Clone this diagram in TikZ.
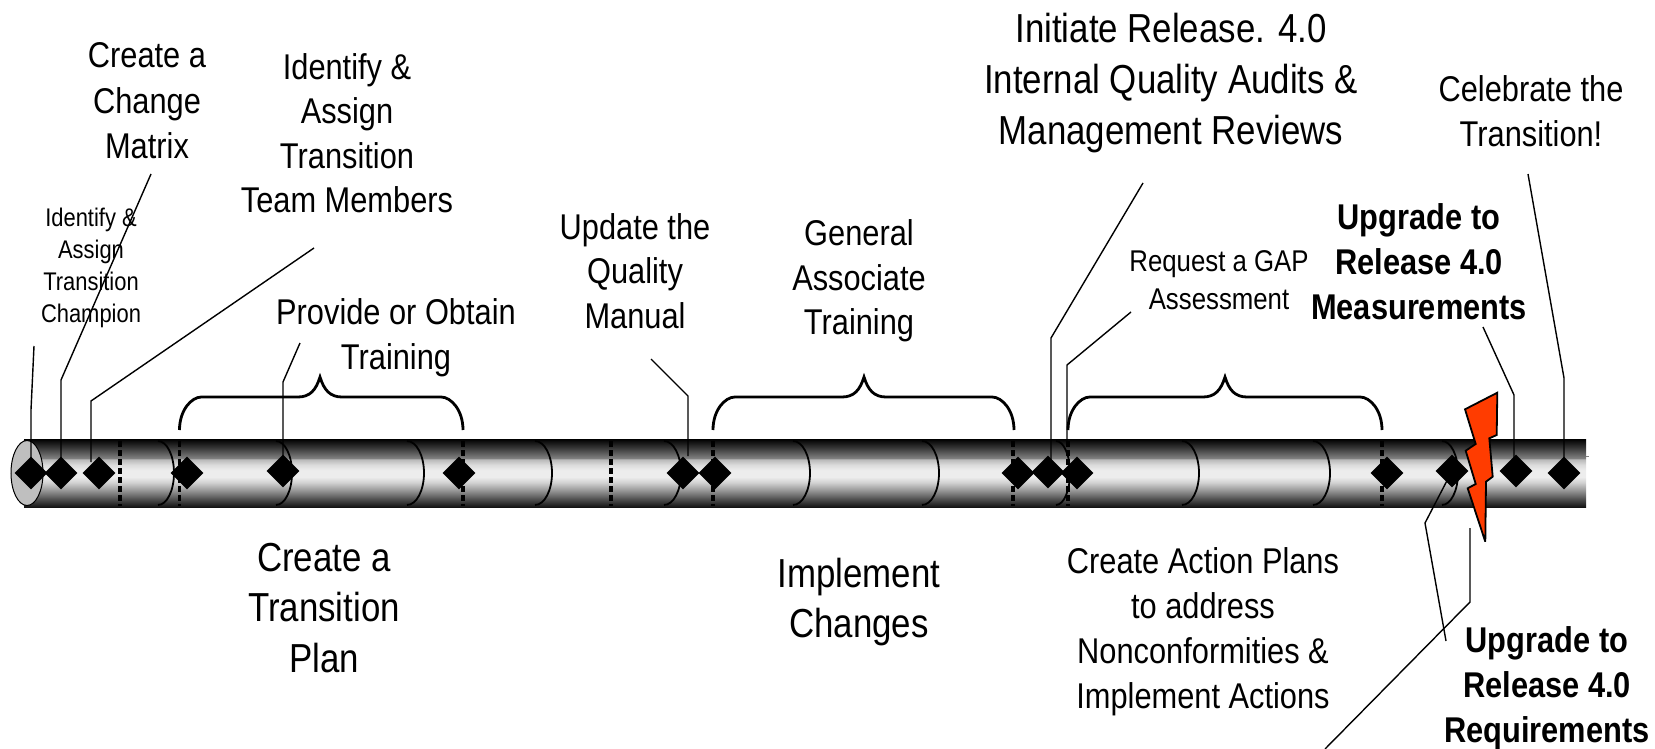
\documentclass[tikz,border=0pt]{standalone}
\usepackage{fontspec}
\setmainfont[FakeStretch=0.86]{Liberation Sans}
\usetikzlibrary{shapes.geometric}
\definecolor{boltred}{HTML}{FF3C00}
\pgfdeclareverticalshading{pipeshade}{100bp}{
 color(0bp)=(black); color(25bp)=(black!92!white); color(31bp)=(black!68!white);
 color(37bp)=(black!42!white); color(43bp)=(black!18!white); color(47bp)=(black!7!white); color(52bp)=(black!7!white);
 color(56bp)=(black!14!white); color(60bp)=(black!28!white); color(61bp)=(black!50!white);
 color(69bp)=(black!80!white); color(75bp)=(black); color(100bp)=(black)}
\tikzset{
 x=1pt,y=-1pt,
 lbl/.style n args={2}{align=center,inner sep=0pt,font=\fontsize{#1}{#2}\selectfont},
 blbl/.style n args={2}{align=center,inner sep=0pt,font=\fontsize{#1}{#2}\selectfont\bfseries},
 mark diamond/.style={diamond,fill=black,draw=none,inner sep=0pt,minimum width=33pt,minimum height=33pt},
 leader/.style={draw=black,line width=1.4pt},
 hoop/.style={draw=black,line width=1.8pt},
 phasemark/.style={draw=black,line width=3.2pt,dash pattern=on 6pt off 3pt},
 curly/.style={draw=black,line width=2.8pt},
}
\newcommand{\curlyb}[3]{% left x, cusp x, right x
 \draw[curly] (#1,430) .. controls (#1,410) and (#1+12,397) .. (#1+22,397) -- (#2-22,397)
   .. controls (#2-10,397) and (#2-4,390) .. (#2,377)
   .. controls (#2+4,390) and (#2+10,397) .. (#2+22,397) -- (#3-22,397)
   .. controls (#3-12,397) and (#3,410) .. (#3,430);}
\begin{document}
\begin{tikzpicture}
\useasboundingbox (0,0) rectangle (1655,749);
% pipe
\shade[shading=pipeshade] (24,439) rectangle (1586,507);
\draw[gray,line width=1pt] (1586,456) -- (1589,456);
\draw[fill=black!25!white,draw=black,line width=1pt] (27,473) ellipse[x radius=16pt,y radius=32.5pt];
% hoops
\foreach \xa/\xb in {158/174,276/292,407/424,535/552,664/681,793/810,922/939,1056/1070,1182/1199,1313/1330,1442/1458}
  {\pgfmathsetmacro\rr{\xb-\xa}
   \draw[hoop] (\xa,441) arc[start angle=90,end angle=-90,x radius=\rr pt,y radius=32pt];}
% phase markers
\foreach \xx in {120,179.5,463,611,713,1013,1068,1382}
  \draw[phasemark] (\xx,441) -- (\xx,506);
% braces
\curlyb{179.5}{320}{463}
\curlyb{713}{864}{1014}
\curlyb{1068}{1225}{1382}
% diamonds
\node[mark diamond] (d1) at (31,473) {};
\node[mark diamond] (d2) at (61,473) {};
\node[mark diamond] (d3) at (99,473) {};
\node[mark diamond] (d4) at (187,473) {};
\node[mark diamond] (d5) at (283,471) {};
\node[mark diamond] (d6) at (459,473) {};
\node[mark diamond] (d7) at (683,473) {};
\node[mark diamond] (d8) at (715,473) {};
\node[mark diamond] (d9) at (1018,473) {};
\node[mark diamond] (d10) at (1048,472) {};
\node[mark diamond] (d11) at (1077,473) {};
\node[mark diamond] (d12) at (1387,473) {};
\node[mark diamond] (d13) at (1452,471) {};
\node[mark diamond] (d14) at (1516,471) {};
\node[mark diamond] (d15) at (1564,473) {};
% texts
\node[lbl={35.8}{45.5}] (t1) at (147,101) {Create a\\Change\\Matrix};
\node[lbl={25.5}{32}] (t2) at (91,268) {Identify \&\\Assign\\Transition\\Champion};
\node[lbl={35.8}{44.5}] (t3) at (347,133) {Identify \&\\Assign\\Transition\\Team Members};
\node[lbl={35.8}{45}] (t4) at (396,338) {Provide or Obtain\\Training};
\node[lbl={35.8}{44.5}] (t5) at (635,271) {Update the\\Quality\\Manual};
\node[lbl={35.8}{44.5}] (t6) at (859,281) {General\\Associate\\Training};
\node[lbl={40.5}{50.6}] (t7) at (1171,83) {Initiate Release. 4.0\\Internal Quality Audits \&\\Management Reviews};
\node[lbl={35.8}{45}] (t8) at (1531,111) {Celebrate the\\Transition!};
\node[lbl={30}{38}] (t9) at (1219,280) {Request a GAP\\Assessment};
\node[blbl={35.8}{45}] (t10) at (1419,262) {Upgrade to\\Release 4.0\\Measurements};
\node[lbl={40.5}{50.6}] (t11) at (324,608) {Create a\\Transition\\Plan};
\node[lbl={40.5}{50.6}] (t12) at (859,602) {Implement\\Changes};
\node[lbl={35.8}{45}] (t13) at (1203,632) {Create Action Plans\\to address\\Nonconformities \&\\Implement Actions};
\node[blbl={35.8}{45}] (t14) at (1547,688) {Upgrade to\\Release 4.0\\Requirements};
% leaders
\coordinate (a1) at (34,346); \coordinate (b1) at (31,410);
\draw[leader] (a1) -- (b1) -- (d1.center);
\coordinate (a2) at (151,174); \coordinate (b2) at (61,380);
\draw[leader] (a2) -- (b2) -- (d2.center);
\coordinate (a3) at (314,248); \coordinate (b3) at (91,401); \coordinate (c3) at (91,462);
\draw[leader] (a3) -- (b3) -- (c3);
\coordinate (a4) at (300,343); \coordinate (b4) at (283,382);
\draw[leader] (a4) -- (b4) -- (d5.center);
\coordinate (a5) at (651,359); \coordinate (b5) at (688,396); \coordinate (c5) at (688,456);
\draw[leader] (a5) -- (b5) -- (c5);
\coordinate (a6) at (1143,183); \coordinate (b6) at (1051,338); \coordinate (c6) at (1051,460);
\draw[leader] (a6) -- (b6) -- (c6);
\coordinate (a7) at (1131,312); \coordinate (b7) at (1067,365); \coordinate (c7) at (1067,445);
\draw[leader] (a7) -- (b7) -- (c7);
\coordinate (a8) at (1483,327); \coordinate (b8) at (1514,395); \coordinate (c8) at (1514,458);
\draw[leader] (a8) -- (b8) -- (c8);
\coordinate (a9) at (1528,174); \coordinate (b9) at (1564,378);
\draw[leader] (a9) -- (b9) -- (d15.center);
\coordinate (a10) at (1446,641); \coordinate (b10) at (1425,523);
\draw[leader] (a10) -- (b10) -- (d13.center);
\coordinate (a11) at (1470,528); \coordinate (b11) at (1470,602); \coordinate (c11) at (1325,749);
\draw[leader] (a11) -- (b11) -- (c11);
% lightning
\draw[fill=boltred,draw=black,line width=1.8pt,line join=miter,miter limit=4]
 (1497.3,392.7) -- (1465,409.3) -- (1475.7,444) -- (1465.7,450.7) -- (1475.7,484) -- (1467.7,488.3)
 -- (1485.3,541.7) -- (1486,481.7) -- (1492.7,476.7) -- (1489.3,438.3) -- (1496.7,435) -- cycle;
\end{tikzpicture}
\end{document}
